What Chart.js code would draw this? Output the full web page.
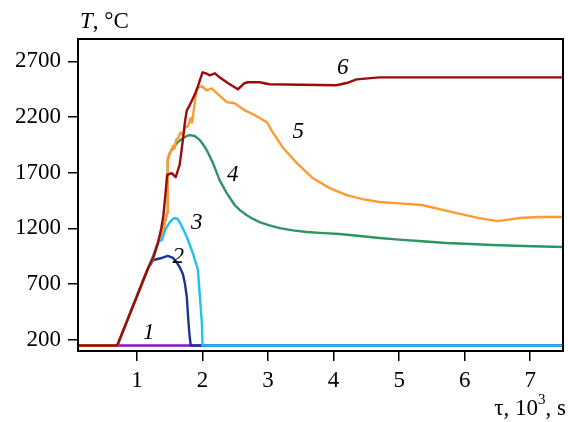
<!DOCTYPE html>
<html>
<head>
<meta charset="utf-8">
<script src="https://cdn.jsdelivr.net/npm/chart.js@4.4.0/dist/chart.umd.min.js"></script>
<style>
  html, body { margin: 0; padding: 0; background: #fff; }
</style>
</head>
<body>
<canvas id="chart" width="568" height="422"></canvas>
<script>
// axis ticks
const xTicks = [1, 2, 3, 4, 5, 6, 7];
const yTicks = [200, 700, 1200, 1700, 2200, 2700];

// curve 1 (purple)
const s1Time = [0.1, 7.5];
const s1Temp = [150, 150];

// curve 2 (dark blue)
const s2Time = [0.1, 0.7, 1.17, 1.25, 1.38, 1.47, 1.55, 1.60, 1.65, 1.70, 1.73, 1.76, 1.78, 1.80, 1.82, 7.5];
const s2Temp = [150, 150, 845, 917, 935, 953, 935, 900, 854, 790, 711, 585, 406, 250, 150, 150];

// curve 3 (light blue)
const s3Time = [0.1, 0.7, 1.17, 1.25, 1.32, 1.38, 1.43, 1.50, 1.55, 1.58, 1.62, 1.65, 1.70, 1.76, 1.85, 1.93, 1.96, 1.99, 2.0, 7.5];
const s3Temp = [150, 150, 845, 962, 1078, 1096, 1186, 1257, 1285, 1293, 1285, 1257, 1200, 1123, 980, 827, 585, 352, 150, 150];

// curve 4 (green)
const s4Time = [0.1, 0.7, 1.17, 1.25, 1.32, 1.40, 1.46, 1.47, 1.47, 1.50, 1.55, 1.62, 1.70, 1.76, 1.81, 1.88, 1.96, 2.02, 2.08, 2.16, 2.26, 2.37, 2.49, 2.58, 2.67, 2.77, 2.87, 3.02, 3.18, 3.38, 3.59, 3.85, 4.09, 4.40, 4.70, 5.00, 5.35, 5.72, 6.10, 6.42, 6.90, 7.5];
const s4Temp = [150, 150, 845, 935, 1078, 1190, 1340, 1460, 1813, 1876, 1920, 1974, 2010, 2030, 2037, 2030, 1992, 1945, 1884, 1786, 1634, 1517, 1410, 1360, 1320, 1285, 1257, 1228, 1203, 1183, 1168, 1158, 1150, 1132, 1114, 1100, 1085, 1069, 1060, 1051, 1042, 1033];

// curve 5 (orange)
const s5Time = [0.1, 0.7, 1.17, 1.25, 1.32, 1.40, 1.46, 1.47, 1.47, 1.50, 1.52, 1.55, 1.57, 1.60, 1.63, 1.66, 1.70, 1.74, 1.78, 1.82, 1.84, 1.88, 1.91, 1.99, 2.06, 2.14, 2.22, 2.37, 2.49, 2.64, 2.80, 2.98, 3.07, 3.22, 3.44, 3.68, 3.94, 4.20, 4.44, 4.70, 5.00, 5.35, 5.81, 6.22, 6.50, 6.83, 7.13, 7.5];
const s5Temp = [150, 150, 845, 935, 1078, 1190, 1340, 1460, 1830, 1876, 1900, 1940, 1915, 2000, 2010, 2060, 2040, 2110, 2120, 2190, 2150, 2323, 2458, 2476, 2440, 2458, 2413, 2333, 2323, 2261, 2216, 2153, 2064, 1929, 1786, 1652, 1562, 1499, 1463, 1437, 1425, 1410, 1347, 1293, 1266, 1293, 1302, 1302];

// curve 6 (dark red)
const s6Time = [0.1, 0.7, 1.17, 1.25, 1.32, 1.37, 1.40, 1.42, 1.44, 1.46, 1.50, 1.53, 1.59, 1.65, 1.70, 1.73, 1.76, 1.80, 1.84, 1.91, 1.96, 2.0, 2.06, 2.11, 2.19, 2.26, 2.39, 2.54, 2.64, 2.69, 2.87, 3.02, 3.50, 4.04, 4.20, 4.35, 4.70, 5.41, 6.5, 7.5];
const s6Temp = [150, 150, 845, 944, 1069, 1200, 1302, 1420, 1544, 1680, 1690, 1696, 1660, 1768, 1992, 2150, 2260, 2300, 2350, 2440, 2530, 2601, 2590, 2574, 2592, 2556, 2503, 2449, 2503, 2512, 2512, 2494, 2490, 2485, 2505, 2538, 2556, 2556, 2556, 2556];

// curve numbers and where they sit (data units)
const curveNames = ['1', '2', '3', '4', '5', '6'];
const labelTime = [1.18, 1.63, 1.91, 2.46, 3.46, 4.14];
const labelTemp = [263, 944, 1248, 1680, 2064, 2637];

const colors = ['#8f10c9', '#1b3591', '#1ec2f2', '#2e9462', '#ff9a33', '#9c0b0b'];

function pts(xs, ys) {
  return xs.map((v, i) => ({ x: v, y: ys[i] }));
}

const series = [
  pts(s1Time, s1Temp), pts(s2Time, s2Temp), pts(s3Time, s3Temp),
  pts(s4Time, s4Temp), pts(s5Time, s5Temp), pts(s6Time, s6Temp)
];

const FONT = '"Liberation Serif"';

// frame, axis titles and curve numbers
const extras = {
  id: 'extras',
  afterDraw(chart) {
    const ctx = chart.ctx;
    const a = chart.chartArea;
    const xs = chart.scales.x, ys = chart.scales.y;
    ctx.save();
    ctx.strokeStyle = '#000';
    ctx.lineWidth = 2;
    ctx.strokeRect(a.left, a.top, a.right - a.left, a.bottom - a.top);

    ctx.fillStyle = '#000';
    ctx.textBaseline = 'alphabetic';
    ctx.textAlign = 'left';
    // y title
    ctx.font = 'italic 23px ' + FONT;
    ctx.fillText('T', 80, 28);
    let w = ctx.measureText('T').width;
    ctx.font = '23px ' + FONT;
    ctx.fillText(', °C', 80 + w, 28);

    // x title, right aligned
    const p1 = 'τ, 10', p2 = '3', p3 = ', s';
    ctx.font = '23px ' + FONT;
    const w1 = ctx.measureText(p1).width, w3 = ctx.measureText(p3).width;
    ctx.font = '15px ' + FONT;
    const w2 = ctx.measureText(p2).width;
    let x0 = 566 - (w1 + w2 + w3);
    ctx.font = '23px ' + FONT;
    ctx.fillText(p1, x0, 415);
    ctx.font = '15px ' + FONT;
    ctx.fillText(p2, x0 + w1, 404);
    ctx.font = '23px ' + FONT;
    ctx.fillText(p3, x0 + w1 + w2, 415);

    // curve numbers
    ctx.font = 'italic 23px ' + FONT;
    ctx.textAlign = 'center';
    ctx.textBaseline = 'middle';
    curveNames.forEach((n, i) => {
      ctx.fillText(n, xs.getPixelForValue(labelTime[i]), ys.getPixelForValue(labelTemp[i]));
    });
    ctx.restore();
  }
};

new Chart(document.getElementById('chart'), {
  type: 'line',
  data: {
    datasets: series.map((d, i) => ({
      data: d,
      borderColor: colors[i],
      borderWidth: 2.4,
      pointRadius: 0,
      tension: 0,
      borderJoinStyle: 'round',
      fill: false,
      order: 6 - i
    }))
  },
  options: {
    responsive: false,
    animation: false,
    devicePixelRatio: 1,
    layout: { padding: { left: 0, top: 39, right: 5, bottom: 0 } },
    plugins: { legend: { display: false }, tooltip: { enabled: false } },
    scales: {
      x: {
        type: 'linear',
        min: 0.1,
        max: 7.5,
        afterBuildTicks: s => { s.ticks = xTicks.map(v => ({ value: v })); },
        afterFit: s => { s.height = 71; },
        border: { display: false },
        grid: { drawOnChartArea: false, drawTicks: true, tickLength: 10, color: '#000', lineWidth: 1.5 },
        ticks: { color: '#000', padding: 6, maxRotation: 0, callback: v => String(v), font: { family: 'Liberation Serif', size: 23 } }
      },
      y: {
        type: 'linear',
        min: 100,
        max: 2900,
        afterBuildTicks: s => { s.ticks = yTicks.map(v => ({ value: v })); },
        afterFit: s => { s.width = 78; },
        border: { display: false },
        grid: { drawOnChartArea: false, drawTicks: true, tickLength: 10, color: '#000', lineWidth: 1.5 },
        ticks: { color: '#000', padding: 7, callback: v => String(v), font: { family: 'Liberation Serif', size: 23 } }
      }
    }
  },
  plugins: [extras]
});
</script>
</body>
</html>
